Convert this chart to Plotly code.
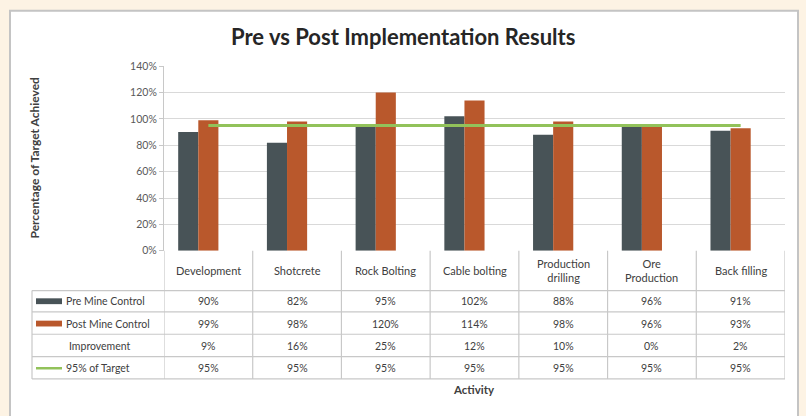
import plotly.graph_objects as go

categories = ["Development", "Shotcrete", "Rock Bolting", "Cable bolting",
              "Production drilling", "Ore Production", "Back filling"]
header_labels = ["Development", "Shotcrete", "Rock Bolting", "Cable bolting",
                 "Production<br>drilling", "Ore<br>Production", "Back filling"]
pre_mine = [0.90, 0.82, 0.95, 1.02, 0.88, 0.96, 0.91]
post_mine = [0.99, 0.98, 1.20, 1.14, 0.98, 0.96, 0.93]
improvement = [0.09, 0.16, 0.25, 0.12, 0.10, 0.00, 0.02]
target_95 = [0.95, 0.95, 0.95, 0.95, 0.95, 0.95, 0.95]
y_ticks = [0, 0.2, 0.4, 0.6, 0.8, 1.0, 1.2, 1.4]

W, H = 806, 416
def px(x): return x / W
def py(y): return 1 - y / H

C_PRE = "#485357"
C_POST = "#b9582c"
C_GREEN = "#92c25a"
C_GRID = "#d9d9d9"
C_TBL = "#c8c8c8"
C_TXT = "#404040"
FONT = "Lato"

fig = go.Figure()
fig.add_trace(go.Bar(x=categories, y=pre_mine, name="Pre Mine Control",
                     marker=dict(color=C_PRE, line=dict(width=0))))
fig.add_trace(go.Bar(x=categories, y=post_mine, name="Post Mine Control",
                     marker=dict(color=C_POST, line=dict(width=0))))
fig.add_trace(go.Bar(x=categories, y=improvement, name="Improvement",
                     marker=dict(color="rgba(0,0,0,0)", line=dict(width=0))))
fig.add_trace(go.Scatter(x=categories, y=target_95, name="95% of Target",
                         mode="lines", line=dict(color=C_GREEN, width=3)))

shapes = []
annotations = []

# white card
shapes.append(dict(type="rect", xref="paper", yref="paper", x0=px(10), x1=px(798),
                   y0=py(430), y1=py(5), fillcolor="white",
                   line=dict(color="#c4c4c4", width=2), layer="below"))

# table horizontal lines
row_lines = [293, 315, 338, 361, 384]
for y in row_lines:
    shapes.append(dict(type="line", xref="paper", yref="paper", x0=px(32), x1=px(785),
                       y0=py(y), y1=py(y), line=dict(color=C_TBL, width=1.2)))
shapes.append(dict(type="line", xref="paper", yref="paper", x0=px(32), x1=px(32),
                   y0=py(293), y1=py(384), line=dict(color=C_TBL, width=1.2)))
for i in range(len(categories) + 1):
    shapes.append(dict(type="line", xref="x", yref="paper", x0=i - 0.5, x1=i - 0.5,
                       y0=py(252), y1=py(384), line=dict(color=C_TBL, width=1.2)))

# header labels
for cat, lab in zip(categories, header_labels):
    annotations.append(dict(x=cat, xref="x", y=py(272), yref="paper", text=lab,
                            showarrow=False, font=dict(size=11, color=C_TXT, family=FONT),
                            xanchor="center", yanchor="middle"))

row_centers = [304, 327, 350, 373]
rows = [pre_mine, post_mine, improvement, target_95]
row_names = ["Pre Mine Control", "Post Mine Control", "Improvement", "95% of Target"]
for yc, vals in zip(row_centers, rows):
    for cat, v in zip(categories, vals):
        annotations.append(dict(x=cat, xref="x", y=py(yc), yref="paper",
                                text=f"{round(v * 100)}%", showarrow=False,
                                font=dict(size=10.5, color=C_TXT, family=FONT),
                                xanchor="center", yanchor="middle"))

for name, yc in zip(row_names, row_centers):
    if name == "Improvement":
        annotations.append(dict(x=px(100), xref="paper", y=py(yc), yref="paper", text=name,
                                showarrow=False, font=dict(size=10.5, color=C_TXT, family=FONT),
                                xanchor="center", yanchor="middle"))
    else:
        annotations.append(dict(x=px(64), xref="paper", y=py(yc), yref="paper", text=name,
                                showarrow=False, font=dict(size=10.5, color=C_TXT, family=FONT),
                                xanchor="left", yanchor="middle"))
shapes.append(dict(type="rect", xref="paper", yref="paper", x0=px(36), x1=px(62),
                   y0=py(row_centers[0]) - 3 / H, y1=py(row_centers[0]) + 3 / H,
                   fillcolor=C_PRE, line=dict(width=0)))
shapes.append(dict(type="rect", xref="paper", yref="paper", x0=px(36), x1=px(62),
                   y0=py(row_centers[1]) - 3 / H, y1=py(row_centers[1]) + 3 / H,
                   fillcolor=C_POST, line=dict(width=0)))
shapes.append(dict(type="line", xref="paper", yref="paper", x0=px(36), x1=px(62),
                   y0=py(row_centers[3]), y1=py(row_centers[3]),
                   line=dict(color=C_GREEN, width=2.5)))

annotations.append(dict(x=px(403), xref="paper", y=py(31), yref="paper",
                        text="<b>Pre vs Post Implementation Results</b>", showarrow=False,
                        font=dict(size=22, color="#262626", family=FONT),
                        xanchor="center", yanchor="middle"))
annotations.append(dict(x=px(34), xref="paper", y=py(156), yref="paper",
                        text="<b>Percentage of Target Achieved</b>", textangle=-90,
                        showarrow=False, font=dict(size=12, color="#404040", family=FONT),
                        xanchor="center", yanchor="middle"))
annotations.append(dict(x=px(474), xref="paper", y=py(395), yref="paper",
                        text="<b>Activity</b>", showarrow=False,
                        font=dict(size=11.5, color="#404040", family=FONT),
                        xanchor="center", yanchor="middle"))

fig.update_layout(
    width=W, height=H,
    margin=dict(l=0, r=0, t=0, b=0),
    paper_bgcolor="#fdf3e4",
    plot_bgcolor="white",
    barmode="group",
    bargap=0.32,
    bargroupgap=0,
    showlegend=False,
    shapes=shapes,
    annotations=annotations,
    font=dict(family=FONT),
    xaxis=dict(domain=[px(164), px(785)], range=[-0.5, 6.5], showticklabels=False,
               showgrid=False, zeroline=False, showline=False, ticks=""),
    yaxis=dict(domain=[py(252), py(62)], range=[0, 1.4], tickvals=y_ticks,
               tickformat=".0%", showgrid=True, gridcolor=C_GRID, gridwidth=1.2,
               zeroline=False, showline=True, linecolor=C_TBL, linewidth=1.2,
               ticks="outside", ticklen=4, tickcolor=C_TBL,
               tickfont=dict(size=10.5, color="#595959", family=FONT)),
)

fig.write_html("out.html",
               config={"displayModeBar": False},
               post_script="document.body.style.margin='0';document.body.style.padding='0';"
                           "document.body.style.background='#fdf3e4';")
